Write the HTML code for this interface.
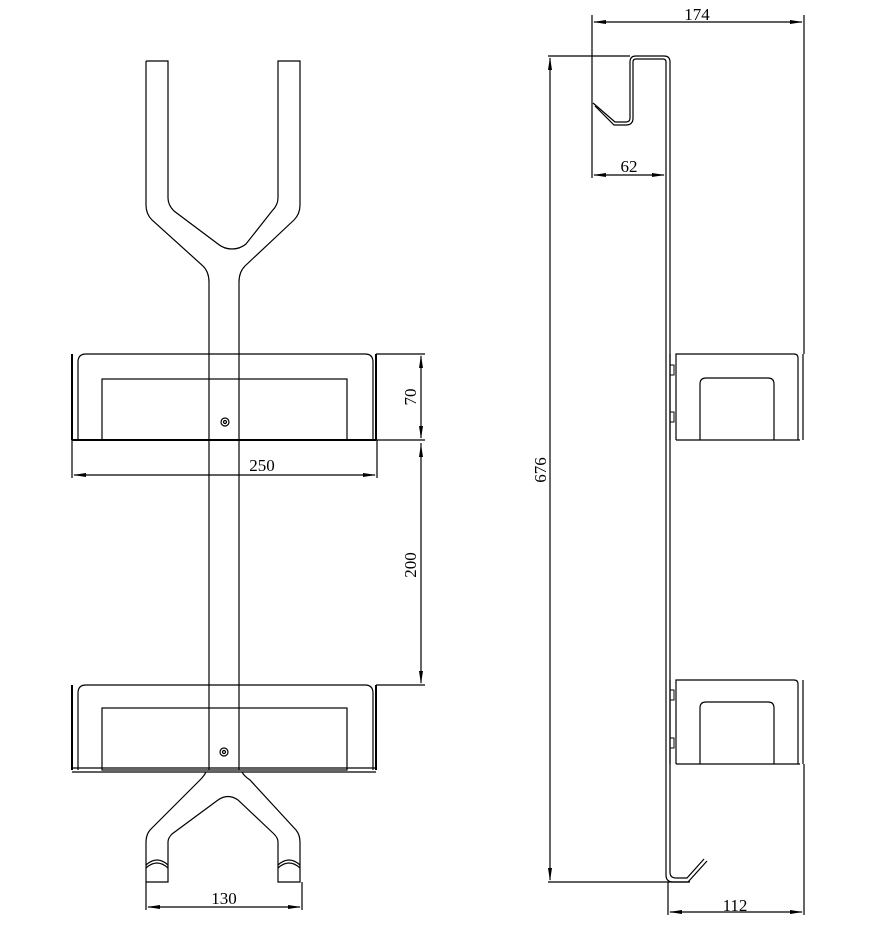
<!DOCTYPE html>
<html><head><style>body{margin:0;background:#fff}svg{display:block}</style></head><body>
<svg width="890" height="937" viewBox="0 0 890 937" xmlns="http://www.w3.org/2000/svg" fill="none" stroke="#000" stroke-width="1.2" font-family="Liberation Serif, serif" font-size="17">
<!-- top Y -->
<path d="M146,61H168V198Q168,205 174,211L218,244Q224,249 232,249Q240,249 246,244L272,211Q278,205 278,198V61H300V205Q300,214 294,220L245,266Q239,272 239,282V354"/>
<path d="M146,61V205Q146,214 152,220L203,266Q209,272 209,282V354"/>
<path d="M209,354V685M239,354V685M209,685V770M239,685V770"/>
<!-- basket 1 -->
<path d="M78,440V362Q78,354 86,354H365Q373,354 373,362V440"/>
<rect x="102" y="379" width="245" height="61"/>
<path d="M72,354V440M376,354V440" stroke-width="2"/>
<path d="M72,440H376" stroke-width="2"/>
<circle cx="225" cy="422" r="4"/><circle cx="225" cy="422" r="1.5"/>
<!-- basket 2 -->
<path d="M78,770V693Q78,685 86,685H365Q373,685 373,693V770"/>
<rect x="102" y="708" width="245" height="62"/>
<path d="M72,685V770M376,685V770" stroke-width="2"/>
<path d="M72,768H376M72,772H376"/>
<circle cx="224" cy="752" r="4"/><circle cx="224" cy="752" r="1.5"/>
<!-- bottom Y -->
<path d="M206,772Q204,776 200,780L150,830Q146,835 146,842V882H168V842Q168,838 172,834L218,800Q228,793 238,800L274,834Q278,838 278,842V882H300V842Q300,835 296,830L250,780Q244,776 242,772"/>
<path d="M146,868Q157,858 168,868M146,865Q157,855 168,865M278,868Q289,858 300,868M278,865Q289,855 300,865"/>
<!-- dims left -->
<path d="M376,354H425M376,440H425M376,685H425M72,440V478M377,440V478M146,882V910M302,882V910"/>
<path d="M421,356V438M421,443V683M74,475H375M148,907H300"/>
<g fill="#000" stroke="none">
<path d="M421,355l-2,13h4zM421,439l-2,-13h4zM421,444l-2,13h4zM421,684l-2,-13h4z"/>
<path d="M73,475l13,-2v4zM376,475l-13,-2v4zM147,907l13,-2v4zM301,907l-13,-2v4z"/>
<path d="M593,22l13,-2v4zM803,22l-13,-2v4zM593,175l13,-2v4zM665,175l-13,-2v4zM669,912l13,-2v4zM803,912l-13,-2v4z"/>
<path d="M550,57l-2,13h4zM550,881l-2,-13h4z"/>
<text x="262" y="471" text-anchor="middle">250</text>
<text x="224" y="904" text-anchor="middle">130</text>
<text transform="translate(416,397) rotate(-90)" text-anchor="middle">70</text>
<text transform="translate(416,565) rotate(-90)" text-anchor="middle">200</text>
<text transform="translate(546,470) rotate(-90)" text-anchor="middle">676</text>
<text x="697" y="20" text-anchor="middle">174</text>
<text x="629" y="172" text-anchor="middle">62</text>
<text x="735" y="911" text-anchor="middle">112</text>
</g>
<!-- right view bar + top hook -->
<path d="M666,62V875Q666,882 673,882H688L707,861"/>
<path d="M670,62V872Q670,878 676,878H687L704,859"/>
<path d="M666,62Q666,59 663,59H636Q633,59 633,62V118Q633,125 626,125H614L595,106"/>
<path d="M670,62Q670,56 664,56H636Q630,56 630,62V118Q630,122 626,122H615L593,103"/>
<!-- right baskets -->
<path d="M676,440V354H794Q798,354 798,358V440M670,354V440M803,354V440M676,440H800"/>
<path d="M700,440V384Q700,378 706,378H768Q774,378 774,384V440"/>
<path d="M676,764V680H794Q798,680 798,684V764M670,680V764M803,680V764M676,764H800"/>
<path d="M700,764V708Q700,702 706,702H768Q774,702 774,708V764"/>
<path d="M670,365h4v10h-4M670,412h4v10h-4M670,690h4v10h-4M670,738h4v10h-4" stroke-width="1"/>
<!-- right dims -->
<path d="M592,15V178M804,15V354M804,764V915M668,882V915M548,56H630M548,882H690"/>
<path d="M594,22H802M594,175H664M550,58V880M670,912H802"/>
</svg>
</body></html>
